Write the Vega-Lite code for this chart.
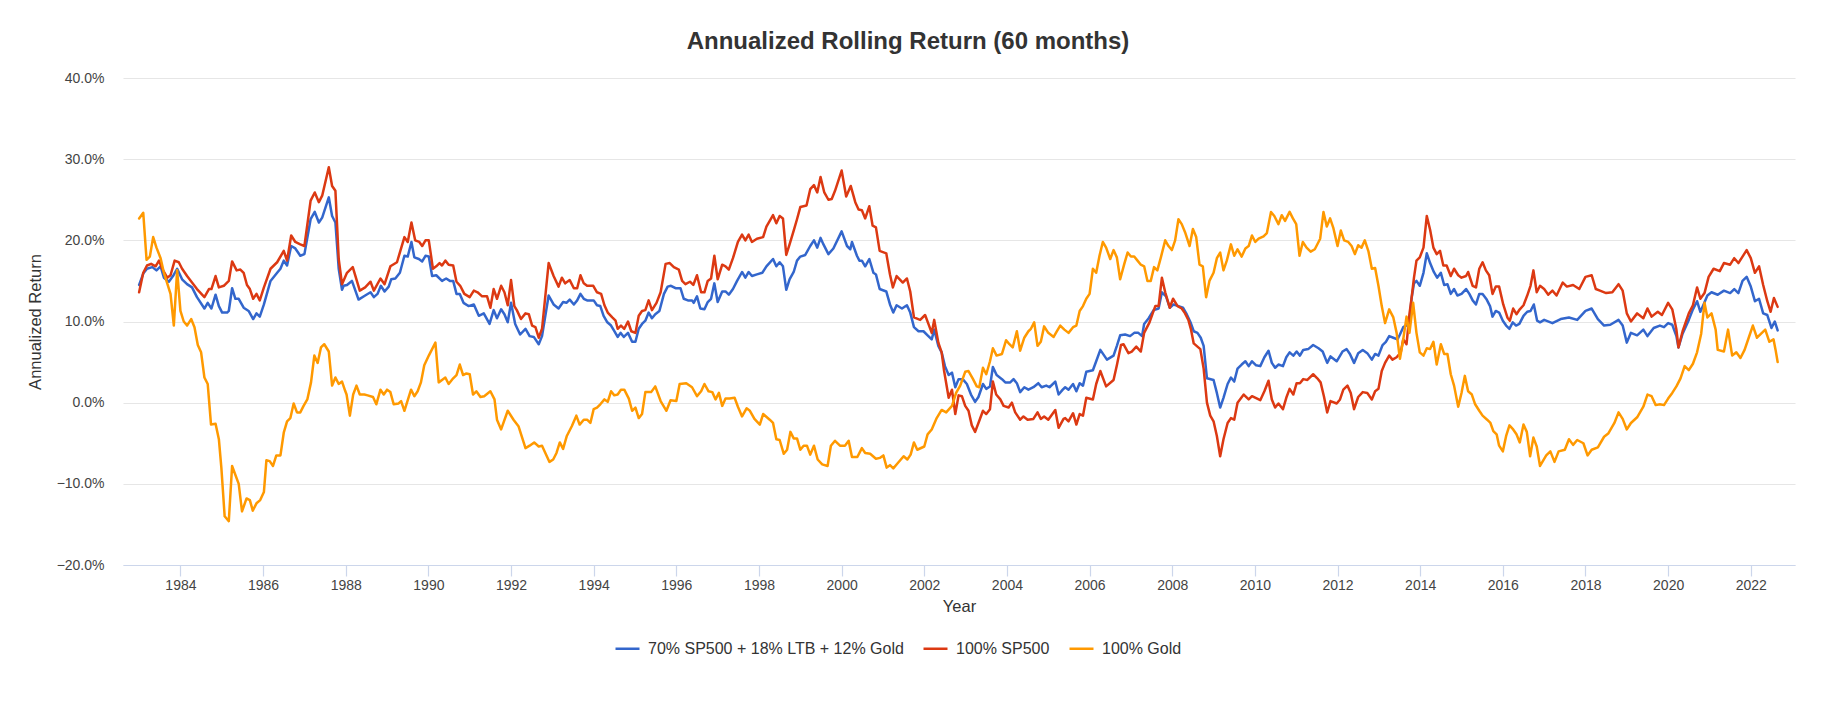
{
"$schema": "https://vega.github.io/schema/vega-lite/v6.json",
"width": 1672,
"height": 487,
"autosize": {"type": "none"},
"padding": {"left": 123, "top": 78, "right": 47, "bottom": 138},
"background": "white",
"config": {"view": {"stroke": null}, "font": "Liberation Sans"},
"title": {"text": "Annualized Rolling Return (60 months)", "fontSize": 24, "font": "Liberation Sans", "fontWeight": "bold", "color": "#333333", "anchor": "middle", "frame": "group", "dx": -51, "offset": 17},
"datasets": {
"blue": [
{"t":1983.00,"v":14.5},{"t":1983.10,"v":15.9},{"t":1983.19,"v":16.5},{"t":1983.32,"v":16.7},{"t":1983.42,"v":16.3},{"t":1983.52,"v":16.8},{"t":1983.60,"v":15.4},{"t":1983.72,"v":14.9},{"t":1983.82,"v":15.6},{"t":1983.92,"v":16.5},{"t":1984.04,"v":15.2},{"t":1984.16,"v":14.6},{"t":1984.28,"v":14.2},{"t":1984.40,"v":13.0},{"t":1984.58,"v":11.6},{"t":1984.66,"v":12.3},{"t":1984.75,"v":11.6},{"t":1984.85,"v":13.3},{"t":1984.93,"v":11.9},{"t":1985.01,"v":11.1},{"t":1985.13,"v":11.1},{"t":1985.17,"v":11.3},{"t":1985.25,"v":14.1},{"t":1985.33,"v":12.8},{"t":1985.41,"v":12.8},{"t":1985.53,"v":11.7},{"t":1985.65,"v":11.3},{"t":1985.76,"v":10.3},{"t":1985.84,"v":11.0},{"t":1985.92,"v":10.6},{"t":1986.02,"v":12.1},{"t":1986.18,"v":15.0},{"t":1986.34,"v":16.0},{"t":1986.42,"v":16.5},{"t":1986.50,"v":17.5},{"t":1986.58,"v":16.9},{"t":1986.68,"v":19.3},{"t":1986.78,"v":19.0},{"t":1986.90,"v":18.1},{"t":1987.00,"v":18.3},{"t":1987.15,"v":22.6},{"t":1987.25,"v":23.5},{"t":1987.35,"v":22.2},{"t":1987.43,"v":22.8},{"t":1987.59,"v":25.3},{"t":1987.67,"v":23.0},{"t":1987.75,"v":22.2},{"t":1987.83,"v":16.5},{"t":1987.91,"v":13.9},{"t":1987.95,"v":14.4},{"t":1988.03,"v":14.5},{"t":1988.15,"v":15.0},{"t":1988.31,"v":12.7},{"t":1988.47,"v":13.2},{"t":1988.60,"v":13.6},{"t":1988.68,"v":13.0},{"t":1988.77,"v":13.4},{"t":1988.85,"v":14.4},{"t":1988.94,"v":13.7},{"t":1989.04,"v":14.3},{"t":1989.10,"v":15.2},{"t":1989.20,"v":15.3},{"t":1989.31,"v":16.0},{"t":1989.42,"v":18.1},{"t":1989.50,"v":18.0},{"t":1989.59,"v":19.8},{"t":1989.66,"v":17.9},{"t":1989.77,"v":17.7},{"t":1989.85,"v":17.4},{"t":1989.93,"v":18.1},{"t":1990.01,"v":18.0},{"t":1990.09,"v":15.6},{"t":1990.19,"v":15.7},{"t":1990.33,"v":15.0},{"t":1990.43,"v":15.3},{"t":1990.52,"v":15.0},{"t":1990.60,"v":15.0},{"t":1990.68,"v":13.4},{"t":1990.76,"v":13.4},{"t":1990.85,"v":12.3},{"t":1990.97,"v":11.9},{"t":1991.10,"v":12.1},{"t":1991.22,"v":10.7},{"t":1991.34,"v":11.0},{"t":1991.48,"v":9.7},{"t":1991.58,"v":11.4},{"t":1991.66,"v":10.4},{"t":1991.76,"v":11.5},{"t":1991.84,"v":10.9},{"t":1991.92,"v":9.9},{"t":1992.00,"v":12.3},{"t":1992.10,"v":9.7},{"t":1992.22,"v":8.4},{"t":1992.35,"v":9.1},{"t":1992.45,"v":8.2},{"t":1992.55,"v":8.1},{"t":1992.67,"v":7.2},{"t":1992.75,"v":8.2},{"t":1992.91,"v":13.2},{"t":1993.03,"v":12.1},{"t":1993.15,"v":11.6},{"t":1993.26,"v":12.4},{"t":1993.34,"v":12.3},{"t":1993.42,"v":12.7},{"t":1993.52,"v":12.1},{"t":1993.60,"v":12.6},{"t":1993.68,"v":13.4},{"t":1993.76,"v":12.8},{"t":1993.84,"v":12.6},{"t":1994.00,"v":12.6},{"t":1994.08,"v":12.0},{"t":1994.16,"v":11.9},{"t":1994.24,"v":10.7},{"t":1994.33,"v":9.9},{"t":1994.42,"v":9.5},{"t":1994.50,"v":8.8},{"t":1994.58,"v":8.1},{"t":1994.65,"v":8.6},{"t":1994.73,"v":8.1},{"t":1994.83,"v":8.6},{"t":1994.93,"v":7.5},{"t":1995.01,"v":7.5},{"t":1995.09,"v":9.1},{"t":1995.17,"v":9.7},{"t":1995.25,"v":10.1},{"t":1995.33,"v":11.1},{"t":1995.41,"v":10.4},{"t":1995.49,"v":10.9},{"t":1995.59,"v":11.3},{"t":1995.70,"v":13.4},{"t":1995.79,"v":14.3},{"t":1995.87,"v":14.4},{"t":1995.98,"v":14.1},{"t":1996.10,"v":14.1},{"t":1996.18,"v":12.8},{"t":1996.28,"v":12.6},{"t":1996.38,"v":12.6},{"t":1996.42,"v":12.3},{"t":1996.50,"v":13.1},{"t":1996.58,"v":11.6},{"t":1996.68,"v":11.5},{"t":1996.76,"v":12.4},{"t":1996.84,"v":12.8},{"t":1996.92,"v":14.7},{"t":1997.00,"v":12.4},{"t":1997.11,"v":13.7},{"t":1997.19,"v":13.7},{"t":1997.27,"v":13.3},{"t":1997.37,"v":14.0},{"t":1997.47,"v":15.0},{"t":1997.59,"v":16.1},{"t":1997.67,"v":15.4},{"t":1997.75,"v":16.1},{"t":1997.83,"v":15.6},{"t":1997.95,"v":15.8},{"t":1998.08,"v":16.0},{"t":1998.18,"v":16.8},{"t":1998.34,"v":17.7},{"t":1998.42,"v":16.8},{"t":1998.50,"v":17.3},{"t":1998.58,"v":16.8},{"t":1998.66,"v":13.9},{"t":1998.74,"v":15.2},{"t":1998.84,"v":16.1},{"t":1998.92,"v":17.5},{"t":1999.00,"v":18.0},{"t":1999.12,"v":18.2},{"t":1999.24,"v":19.3},{"t":1999.33,"v":20.0},{"t":1999.41,"v":19.1},{"t":1999.49,"v":20.3},{"t":1999.56,"v":19.5},{"t":1999.68,"v":18.3},{"t":1999.80,"v":19.0},{"t":2000.00,"v":21.1},{"t":2000.13,"v":19.3},{"t":2000.21,"v":18.9},{"t":2000.25,"v":19.8},{"t":2000.37,"v":18.1},{"t":2000.43,"v":17.5},{"t":2000.49,"v":17.5},{"t":2000.57,"v":16.8},{"t":2000.67,"v":17.7},{"t":2000.77,"v":16.0},{"t":2000.83,"v":15.8},{"t":2000.92,"v":14.0},{"t":2001.08,"v":13.7},{"t":2001.17,"v":12.1},{"t":2001.25,"v":11.1},{"t":2001.33,"v":12.0},{"t":2001.46,"v":11.6},{"t":2001.58,"v":12.0},{"t":2001.66,"v":11.1},{"t":2001.75,"v":9.3},{"t":2001.86,"v":8.8},{"t":2001.98,"v":8.8},{"t":2002.08,"v":8.3},{"t":2002.18,"v":7.8},{"t":2002.24,"v":9.0},{"t":2002.34,"v":7.0},{"t":2002.42,"v":6.2},{"t":2002.50,"v":4.5},{"t":2002.59,"v":3.4},{"t":2002.67,"v":3.7},{"t":2002.75,"v":1.9},{"t":2002.83,"v":2.9},{"t":2002.93,"v":2.9},{"t":2003.03,"v":2.3},{"t":2003.13,"v":1.0},{"t":2003.23,"v":0.1},{"t":2003.31,"v":0.7},{"t":2003.42,"v":2.3},{"t":2003.50,"v":1.7},{"t":2003.59,"v":2.0},{"t":2003.66,"v":4.4},{"t":2003.75,"v":3.4},{"t":2003.88,"v":2.9},{"t":2003.96,"v":2.5},{"t":2004.08,"v":2.5},{"t":2004.16,"v":2.9},{"t":2004.24,"v":2.4},{"t":2004.32,"v":1.3},{"t":2004.42,"v":1.9},{"t":2004.52,"v":1.6},{"t":2004.64,"v":1.9},{"t":2004.76,"v":2.4},{"t":2004.84,"v":1.9},{"t":2004.95,"v":2.1},{"t":2005.03,"v":1.9},{"t":2005.17,"v":2.6},{"t":2005.25,"v":1.0},{"t":2005.35,"v":1.6},{"t":2005.41,"v":1.9},{"t":2005.49,"v":1.6},{"t":2005.60,"v":2.3},{"t":2005.68,"v":1.4},{"t":2005.76,"v":2.4},{"t":2005.84,"v":2.1},{"t":2005.92,"v":3.8},{"t":2006.08,"v":4.0},{"t":2006.16,"v":5.1},{"t":2006.26,"v":6.5},{"t":2006.42,"v":5.3},{"t":2006.58,"v":5.8},{"t":2006.66,"v":7.0},{"t":2006.74,"v":8.3},{"t":2006.86,"v":8.4},{"t":2006.98,"v":8.2},{"t":2007.08,"v":8.6},{"t":2007.18,"v":8.6},{"t":2007.27,"v":8.2},{"t":2007.32,"v":9.7},{"t":2007.43,"v":10.4},{"t":2007.55,"v":11.4},{"t":2007.67,"v":11.6},{"t":2007.75,"v":13.6},{"t":2007.85,"v":13.1},{"t":2007.94,"v":11.7},{"t":2008.03,"v":12.1},{"t":2008.15,"v":11.9},{"t":2008.26,"v":11.7},{"t":2008.34,"v":11.0},{"t":2008.45,"v":9.8},{"t":2008.52,"v":8.8},{"t":2008.61,"v":8.6},{"t":2008.69,"v":8.0},{"t":2008.76,"v":7.0},{"t":2008.84,"v":3.0},{"t":2009.00,"v":2.8},{"t":2009.08,"v":1.2},{"t":2009.16,"v":-0.6},{"t":2009.24,"v":0.6},{"t":2009.34,"v":2.3},{"t":2009.42,"v":3.1},{"t":2009.50,"v":2.6},{"t":2009.58,"v":4.2},{"t":2009.68,"v":4.7},{"t":2009.77,"v":5.1},{"t":2009.85,"v":4.5},{"t":2009.93,"v":5.1},{"t":2010.03,"v":4.6},{"t":2010.13,"v":4.5},{"t":2010.23,"v":5.6},{"t":2010.33,"v":6.4},{"t":2010.41,"v":4.9},{"t":2010.49,"v":4.3},{"t":2010.57,"v":4.7},{"t":2010.68,"v":4.5},{"t":2010.76,"v":5.6},{"t":2010.84,"v":6.2},{"t":2010.93,"v":5.8},{"t":2011.01,"v":6.3},{"t":2011.09,"v":5.8},{"t":2011.17,"v":6.5},{"t":2011.29,"v":6.6},{"t":2011.41,"v":7.1},{"t":2011.54,"v":6.7},{"t":2011.64,"v":6.3},{"t":2011.75,"v":4.9},{"t":2011.83,"v":5.7},{"t":2011.98,"v":5.1},{"t":2012.12,"v":6.3},{"t":2012.22,"v":6.6},{"t":2012.30,"v":6.0},{"t":2012.40,"v":4.9},{"t":2012.50,"v":6.1},{"t":2012.61,"v":6.5},{"t":2012.72,"v":6.1},{"t":2012.83,"v":5.3},{"t":2012.91,"v":6.0},{"t":2012.99,"v":5.8},{"t":2013.09,"v":7.1},{"t":2013.17,"v":7.5},{"t":2013.25,"v":8.2},{"t":2013.35,"v":8.0},{"t":2013.45,"v":7.8},{"t":2013.51,"v":8.4},{"t":2013.59,"v":9.3},{"t":2013.66,"v":9.5},{"t":2013.74,"v":9.9},{"t":2013.79,"v":12.8},{"t":2013.85,"v":14.7},{"t":2013.91,"v":15.0},{"t":2013.99,"v":14.4},{"t":2014.08,"v":16.0},{"t":2014.16,"v":18.4},{"t":2014.24,"v":17.2},{"t":2014.33,"v":16.1},{"t":2014.41,"v":15.4},{"t":2014.50,"v":16.0},{"t":2014.58,"v":14.5},{"t":2014.66,"v":14.6},{"t":2014.74,"v":13.4},{"t":2014.82,"v":14.0},{"t":2014.90,"v":13.2},{"t":2015.00,"v":13.4},{"t":2015.11,"v":14.0},{"t":2015.19,"v":13.4},{"t":2015.27,"v":12.6},{"t":2015.35,"v":12.1},{"t":2015.43,"v":13.4},{"t":2015.51,"v":13.4},{"t":2015.61,"v":12.7},{"t":2015.69,"v":11.9},{"t":2015.75,"v":10.6},{"t":2015.83,"v":11.3},{"t":2015.91,"v":11.1},{"t":2016.00,"v":10.1},{"t":2016.08,"v":9.5},{"t":2016.16,"v":9.1},{"t":2016.24,"v":9.9},{"t":2016.32,"v":9.5},{"t":2016.40,"v":9.7},{"t":2016.50,"v":10.7},{"t":2016.59,"v":11.2},{"t":2016.67,"v":11.3},{"t":2016.75,"v":12.1},{"t":2016.83,"v":10.1},{"t":2016.90,"v":9.9},{"t":2017.00,"v":10.2},{"t":2017.20,"v":9.8},{"t":2017.40,"v":10.3},{"t":2017.60,"v":10.5},{"t":2017.80,"v":10.2},{"t":2018.00,"v":11.3},{"t":2018.15,"v":11.6},{"t":2018.30,"v":10.3},{"t":2018.45,"v":9.5},{"t":2018.60,"v":9.6},{"t":2018.80,"v":10.2},{"t":2018.90,"v":9.5},{"t":2019.00,"v":7.4},{"t":2019.10,"v":8.6},{"t":2019.25,"v":8.3},{"t":2019.40,"v":9.0},{"t":2019.50,"v":8.2},{"t":2019.65,"v":9.2},{"t":2019.80,"v":9.5},{"t":2019.90,"v":9.3},{"t":2020.00,"v":9.8},{"t":2020.10,"v":9.6},{"t":2020.20,"v":8.2},{"t":2020.25,"v":6.8},{"t":2020.35,"v":8.5},{"t":2020.50,"v":10.2},{"t":2020.60,"v":11.5},{"t":2020.70,"v":12.5},{"t":2020.78,"v":11.2},{"t":2020.85,"v":12.0},{"t":2020.95,"v":13.2},{"t":2021.05,"v":13.6},{"t":2021.20,"v":13.3},{"t":2021.35,"v":13.8},{"t":2021.50,"v":13.5},{"t":2021.60,"v":14.0},{"t":2021.70,"v":13.5},{"t":2021.80,"v":15.0},{"t":2021.90,"v":15.5},{"t":2022.00,"v":14.3},{"t":2022.10,"v":12.5},{"t":2022.20,"v":12.8},{"t":2022.30,"v":11.0},{"t":2022.40,"v":10.8},{"t":2022.50,"v":9.2},{"t":2022.58,"v":10.0},{"t":2022.65,"v":8.9}
],
"red": [
{"t":1983.00,"v":13.6},{"t":1983.10,"v":16.0},{"t":1983.19,"v":16.9},{"t":1983.29,"v":17.1},{"t":1983.40,"v":16.8},{"t":1983.48,"v":17.5},{"t":1983.56,"v":16.5},{"t":1983.68,"v":15.4},{"t":1983.76,"v":15.7},{"t":1983.86,"v":17.5},{"t":1983.96,"v":17.3},{"t":1984.04,"v":16.5},{"t":1984.16,"v":15.6},{"t":1984.28,"v":14.8},{"t":1984.40,"v":14.0},{"t":1984.58,"v":13.0},{"t":1984.69,"v":14.0},{"t":1984.75,"v":14.0},{"t":1984.85,"v":15.6},{"t":1984.93,"v":14.2},{"t":1985.05,"v":14.4},{"t":1985.17,"v":15.0},{"t":1985.25,"v":17.4},{"t":1985.36,"v":16.3},{"t":1985.45,"v":16.4},{"t":1985.53,"v":16.0},{"t":1985.61,"v":14.5},{"t":1985.68,"v":14.0},{"t":1985.76,"v":12.8},{"t":1985.84,"v":13.4},{"t":1985.92,"v":12.6},{"t":1986.02,"v":14.2},{"t":1986.18,"v":16.5},{"t":1986.34,"v":17.3},{"t":1986.50,"v":18.7},{"t":1986.58,"v":17.5},{"t":1986.68,"v":20.6},{"t":1986.78,"v":19.8},{"t":1986.90,"v":19.5},{"t":1987.00,"v":19.3},{"t":1987.15,"v":24.9},{"t":1987.25,"v":25.9},{"t":1987.35,"v":24.7},{"t":1987.43,"v":25.5},{"t":1987.59,"v":29.0},{"t":1987.67,"v":26.7},{"t":1987.75,"v":26.1},{"t":1987.83,"v":17.7},{"t":1987.91,"v":14.6},{"t":1988.03,"v":16.0},{"t":1988.17,"v":16.7},{"t":1988.34,"v":13.8},{"t":1988.47,"v":14.2},{"t":1988.60,"v":14.9},{"t":1988.68,"v":13.8},{"t":1988.84,"v":15.3},{"t":1988.94,"v":14.6},{"t":1989.08,"v":16.8},{"t":1989.24,"v":17.3},{"t":1989.42,"v":20.4},{"t":1989.50,"v":19.8},{"t":1989.59,"v":22.2},{"t":1989.68,"v":20.0},{"t":1989.78,"v":19.8},{"t":1989.85,"v":19.3},{"t":1989.93,"v":20.0},{"t":1990.01,"v":20.0},{"t":1990.11,"v":16.5},{"t":1990.19,"v":16.8},{"t":1990.27,"v":17.2},{"t":1990.33,"v":16.9},{"t":1990.41,"v":17.5},{"t":1990.49,"v":17.0},{"t":1990.60,"v":16.9},{"t":1990.68,"v":14.9},{"t":1990.77,"v":14.4},{"t":1990.87,"v":13.4},{"t":1991.00,"v":13.0},{"t":1991.10,"v":13.8},{"t":1991.19,"v":13.6},{"t":1991.30,"v":13.1},{"t":1991.42,"v":13.1},{"t":1991.50,"v":11.7},{"t":1991.58,"v":14.0},{"t":1991.66,"v":12.8},{"t":1991.76,"v":14.4},{"t":1991.84,"v":13.6},{"t":1991.92,"v":12.0},{"t":1992.00,"v":15.1},{"t":1992.08,"v":11.9},{"t":1992.14,"v":11.4},{"t":1992.24,"v":10.3},{"t":1992.35,"v":11.0},{"t":1992.43,"v":10.9},{"t":1992.51,"v":9.5},{"t":1992.59,"v":9.3},{"t":1992.67,"v":8.0},{"t":1992.75,"v":9.1},{"t":1992.91,"v":17.2},{"t":1993.03,"v":15.6},{"t":1993.15,"v":14.3},{"t":1993.23,"v":15.4},{"t":1993.31,"v":14.7},{"t":1993.42,"v":15.1},{"t":1993.52,"v":14.1},{"t":1993.60,"v":14.1},{"t":1993.68,"v":15.7},{"t":1993.76,"v":14.7},{"t":1993.84,"v":14.4},{"t":1993.99,"v":14.4},{"t":1994.08,"v":13.6},{"t":1994.18,"v":13.4},{"t":1994.26,"v":12.0},{"t":1994.34,"v":11.1},{"t":1994.45,"v":10.5},{"t":1994.53,"v":10.1},{"t":1994.58,"v":9.1},{"t":1994.66,"v":9.5},{"t":1994.74,"v":9.1},{"t":1994.83,"v":10.0},{"t":1994.91,"v":8.8},{"t":1995.01,"v":8.6},{"t":1995.09,"v":10.7},{"t":1995.17,"v":11.3},{"t":1995.25,"v":11.4},{"t":1995.33,"v":12.6},{"t":1995.41,"v":11.4},{"t":1995.52,"v":12.3},{"t":1995.62,"v":13.6},{"t":1995.74,"v":17.1},{"t":1995.84,"v":17.2},{"t":1995.94,"v":16.7},{"t":1996.06,"v":16.4},{"t":1996.14,"v":15.0},{"t":1996.22,"v":14.6},{"t":1996.33,"v":14.9},{"t":1996.41,"v":14.5},{"t":1996.50,"v":15.7},{"t":1996.60,"v":13.6},{"t":1996.68,"v":13.6},{"t":1996.76,"v":15.0},{"t":1996.84,"v":15.3},{"t":1996.92,"v":18.1},{"t":1997.00,"v":15.2},{"t":1997.11,"v":17.0},{"t":1997.19,"v":16.8},{"t":1997.27,"v":16.4},{"t":1997.37,"v":17.8},{"t":1997.49,"v":19.8},{"t":1997.59,"v":20.7},{"t":1997.67,"v":20.0},{"t":1997.75,"v":20.7},{"t":1997.83,"v":19.8},{"t":1997.95,"v":20.2},{"t":1998.10,"v":20.4},{"t":1998.18,"v":21.7},{"t":1998.34,"v":23.1},{"t":1998.42,"v":22.1},{"t":1998.50,"v":23.0},{"t":1998.58,"v":22.7},{"t":1998.66,"v":18.2},{"t":1998.74,"v":19.5},{"t":1998.84,"v":21.2},{"t":1998.92,"v":22.6},{"t":1999.00,"v":24.1},{"t":1999.15,"v":24.3},{"t":1999.24,"v":26.3},{"t":1999.33,"v":26.8},{"t":1999.41,"v":25.9},{"t":1999.49,"v":27.8},{"t":1999.58,"v":25.9},{"t":1999.68,"v":25.0},{"t":1999.76,"v":25.1},{"t":1999.84,"v":26.1},{"t":2000.00,"v":28.6},{"t":2000.11,"v":25.4},{"t":2000.22,"v":26.7},{"t":2000.33,"v":24.7},{"t":2000.41,"v":23.8},{"t":2000.49,"v":23.7},{"t":2000.57,"v":22.7},{"t":2000.67,"v":24.2},{"t":2000.75,"v":21.8},{"t":2000.83,"v":21.6},{"t":2000.92,"v":18.7},{"t":2001.08,"v":18.4},{"t":2001.17,"v":15.8},{"t":2001.24,"v":14.2},{"t":2001.33,"v":15.6},{"t":2001.48,"v":14.8},{"t":2001.58,"v":15.3},{"t":2001.66,"v":13.7},{"t":2001.75,"v":10.5},{"t":2001.90,"v":10.2},{"t":2002.02,"v":10.8},{"t":2002.10,"v":9.7},{"t":2002.18,"v":8.6},{"t":2002.24,"v":10.2},{"t":2002.34,"v":7.4},{"t":2002.42,"v":6.2},{"t":2002.48,"v":3.9},{"t":2002.59,"v":0.6},{"t":2002.67,"v":1.6},{"t":2002.75,"v":-1.4},{"t":2002.83,"v":0.9},{"t":2002.91,"v":0.8},{"t":2002.99,"v":-0.4},{"t":2003.07,"v":-1.0},{"t":2003.15,"v":-2.8},{"t":2003.23,"v":-3.6},{"t":2003.34,"v":-2.1},{"t":2003.42,"v":-1.0},{"t":2003.50,"v":-1.4},{"t":2003.59,"v":-0.8},{"t":2003.66,"v":2.6},{"t":2003.74,"v":1.0},{"t":2003.84,"v":0.4},{"t":2003.92,"v":-0.4},{"t":2004.04,"v":-0.6},{"t":2004.12,"v":0.0},{"t":2004.20,"v":-1.2},{"t":2004.32,"v":-2.1},{"t":2004.40,"v":-1.7},{"t":2004.50,"v":-2.1},{"t":2004.64,"v":-2.0},{"t":2004.74,"v":-1.2},{"t":2004.82,"v":-2.0},{"t":2004.90,"v":-1.7},{"t":2005.00,"v":-2.1},{"t":2005.17,"v":-0.9},{"t":2005.25,"v":-3.1},{"t":2005.37,"v":-2.0},{"t":2005.41,"v":-1.9},{"t":2005.49,"v":-2.3},{"t":2005.60,"v":-1.3},{"t":2005.68,"v":-2.7},{"t":2005.76,"v":-1.4},{"t":2005.84,"v":-1.6},{"t":2005.92,"v":0.6},{"t":2006.08,"v":0.4},{"t":2006.16,"v":2.3},{"t":2006.26,"v":3.9},{"t":2006.40,"v":2.0},{"t":2006.58,"v":2.8},{"t":2006.66,"v":4.6},{"t":2006.76,"v":7.1},{"t":2006.82,"v":7.2},{"t":2006.94,"v":6.1},{"t":2007.02,"v":6.3},{"t":2007.13,"v":6.9},{"t":2007.24,"v":6.3},{"t":2007.32,"v":8.6},{"t":2007.45,"v":9.9},{"t":2007.59,"v":11.9},{"t":2007.67,"v":11.9},{"t":2007.75,"v":15.4},{"t":2007.83,"v":13.6},{"t":2007.94,"v":11.7},{"t":2008.02,"v":12.8},{"t":2008.13,"v":11.9},{"t":2008.23,"v":11.6},{"t":2008.31,"v":11.0},{"t":2008.39,"v":10.2},{"t":2008.45,"v":9.1},{"t":2008.52,"v":7.3},{"t":2008.61,"v":6.9},{"t":2008.68,"v":6.6},{"t":2008.76,"v":4.2},{"t":2008.84,"v":0.0},{"t":2008.92,"v":-1.6},{"t":2009.00,"v":-2.3},{"t":2009.08,"v":-4.1},{"t":2009.16,"v":-6.6},{"t":2009.24,"v":-4.5},{"t":2009.34,"v":-2.5},{"t":2009.42,"v":-1.9},{"t":2009.50,"v":-2.1},{"t":2009.58,"v":0.0},{"t":2009.73,"v":1.0},{"t":2009.85,"v":0.4},{"t":2009.93,"v":0.8},{"t":2010.13,"v":0.3},{"t":2010.23,"v":1.4},{"t":2010.33,"v":2.7},{"t":2010.41,"v":0.4},{"t":2010.49,"v":-0.6},{"t":2010.57,"v":-0.1},{"t":2010.68,"v":-0.8},{"t":2010.76,"v":0.6},{"t":2010.84,"v":1.7},{"t":2010.93,"v":1.0},{"t":2011.01,"v":2.4},{"t":2011.09,"v":2.4},{"t":2011.17,"v":2.9},{"t":2011.27,"v":2.8},{"t":2011.41,"v":3.5},{"t":2011.51,"v":3.0},{"t":2011.59,"v":2.5},{"t":2011.67,"v":0.8},{"t":2011.75,"v":-1.2},{"t":2011.83,"v":0.2},{"t":2011.98,"v":-0.1},{"t":2012.06,"v":0.4},{"t":2012.14,"v":1.6},{"t":2012.24,"v":2.1},{"t":2012.32,"v":1.2},{"t":2012.40,"v":-0.8},{"t":2012.50,"v":0.7},{"t":2012.61,"v":1.3},{"t":2012.72,"v":1.2},{"t":2012.83,"v":0.4},{"t":2012.91,"v":1.4},{"t":2012.99,"v":1.7},{"t":2013.07,"v":3.9},{"t":2013.15,"v":4.9},{"t":2013.25,"v":5.8},{"t":2013.33,"v":5.3},{"t":2013.43,"v":5.6},{"t":2013.53,"v":6.2},{"t":2013.59,"v":7.8},{"t":2013.67,"v":7.2},{"t":2013.74,"v":10.9},{"t":2013.79,"v":12.8},{"t":2013.85,"v":15.4},{"t":2013.91,"v":17.5},{"t":2013.99,"v":17.9},{"t":2014.08,"v":19.1},{"t":2014.16,"v":23.0},{"t":2014.24,"v":21.3},{"t":2014.32,"v":19.1},{"t":2014.40,"v":18.3},{"t":2014.48,"v":18.7},{"t":2014.56,"v":16.9},{"t":2014.64,"v":16.9},{"t":2014.74,"v":15.6},{"t":2014.82,"v":16.5},{"t":2014.92,"v":15.7},{"t":2015.00,"v":15.4},{"t":2015.11,"v":15.6},{"t":2015.16,"v":16.1},{"t":2015.27,"v":14.4},{"t":2015.35,"v":14.2},{"t":2015.43,"v":16.5},{"t":2015.51,"v":17.3},{"t":2015.59,"v":16.3},{"t":2015.67,"v":15.7},{"t":2015.75,"v":13.4},{"t":2015.83,"v":14.3},{"t":2015.91,"v":14.3},{"t":2016.01,"v":12.1},{"t":2016.11,"v":10.5},{"t":2016.17,"v":10.1},{"t":2016.25,"v":11.6},{"t":2016.33,"v":10.9},{"t":2016.41,"v":11.5},{"t":2016.50,"v":12.0},{"t":2016.59,"v":13.2},{"t":2016.67,"v":14.4},{"t":2016.74,"v":16.3},{"t":2016.82,"v":13.6},{"t":2016.90,"v":14.4},{"t":2017.00,"v":14.0},{"t":2017.10,"v":13.3},{"t":2017.20,"v":13.8},{"t":2017.30,"v":13.2},{"t":2017.45,"v":14.8},{"t":2017.55,"v":14.3},{"t":2017.70,"v":14.5},{"t":2017.85,"v":14.0},{"t":2018.00,"v":15.5},{"t":2018.15,"v":15.7},{"t":2018.25,"v":14.0},{"t":2018.35,"v":13.8},{"t":2018.50,"v":13.5},{"t":2018.65,"v":13.6},{"t":2018.80,"v":14.6},{"t":2018.90,"v":13.8},{"t":2019.00,"v":11.0},{"t":2019.10,"v":10.0},{"t":2019.25,"v":11.0},{"t":2019.40,"v":10.4},{"t":2019.50,"v":11.6},{"t":2019.60,"v":10.6},{"t":2019.75,"v":11.2},{"t":2019.85,"v":10.8},{"t":2020.00,"v":12.3},{"t":2020.10,"v":11.5},{"t":2020.20,"v":9.0},{"t":2020.25,"v":6.8},{"t":2020.35,"v":8.8},{"t":2020.50,"v":11.0},{"t":2020.60,"v":12.0},{"t":2020.70,"v":14.2},{"t":2020.78,"v":12.8},{"t":2020.88,"v":13.5},{"t":2020.98,"v":15.5},{"t":2021.10,"v":16.5},{"t":2021.25,"v":16.2},{"t":2021.35,"v":17.2},{"t":2021.50,"v":17.0},{"t":2021.60,"v":17.8},{"t":2021.70,"v":17.2},{"t":2021.80,"v":18.0},{"t":2021.90,"v":18.8},{"t":2022.00,"v":17.8},{"t":2022.10,"v":16.0},{"t":2022.20,"v":16.8},{"t":2022.30,"v":14.5},{"t":2022.40,"v":12.5},{"t":2022.48,"v":11.2},{"t":2022.56,"v":12.9},{"t":2022.65,"v":11.8}
],
"gold": [
{"t":1983.00,"v":22.7},{"t":1983.10,"v":23.4},{"t":1983.18,"v":17.6},{"t":1983.26,"v":18.0},{"t":1983.34,"v":20.4},{"t":1983.42,"v":19.1},{"t":1983.52,"v":17.8},{"t":1983.60,"v":16.0},{"t":1983.68,"v":14.7},{"t":1983.76,"v":13.4},{"t":1983.84,"v":9.5},{"t":1983.92,"v":16.3},{"t":1984.00,"v":11.3},{"t":1984.08,"v":10.0},{"t":1984.16,"v":9.5},{"t":1984.26,"v":10.3},{"t":1984.34,"v":9.3},{"t":1984.42,"v":7.1},{"t":1984.50,"v":6.2},{"t":1984.58,"v":3.1},{"t":1984.66,"v":2.3},{"t":1984.74,"v":-2.7},{"t":1984.85,"v":-2.6},{"t":1984.93,"v":-4.5},{"t":1984.99,"v":-8.0},{"t":1985.07,"v":-14.0},{"t":1985.17,"v":-14.6},{"t":1985.25,"v":-7.8},{"t":1985.41,"v":-10.0},{"t":1985.49,"v":-13.4},{"t":1985.60,"v":-11.8},{"t":1985.68,"v":-12.0},{"t":1985.75,"v":-13.3},{"t":1985.84,"v":-12.4},{"t":1985.93,"v":-12.0},{"t":1986.02,"v":-11.0},{"t":1986.08,"v":-7.1},{"t":1986.16,"v":-7.2},{"t":1986.24,"v":-7.8},{"t":1986.32,"v":-6.5},{"t":1986.42,"v":-6.5},{"t":1986.50,"v":-3.7},{"t":1986.58,"v":-2.3},{"t":1986.66,"v":-1.9},{"t":1986.74,"v":-0.1},{"t":1986.82,"v":-1.2},{"t":1986.90,"v":-1.2},{"t":1986.98,"v":-0.4},{"t":1987.07,"v":0.4},{"t":1987.16,"v":2.5},{"t":1987.24,"v":5.8},{"t":1987.32,"v":4.9},{"t":1987.40,"v":6.8},{"t":1987.48,"v":7.2},{"t":1987.59,"v":6.3},{"t":1987.67,"v":2.1},{"t":1987.75,"v":3.1},{"t":1987.83,"v":2.3},{"t":1987.91,"v":2.6},{"t":1987.99,"v":1.4},{"t":1988.02,"v":1.0},{"t":1988.10,"v":-1.6},{"t":1988.18,"v":1.0},{"t":1988.26,"v":2.1},{"t":1988.34,"v":1.0},{"t":1988.45,"v":1.0},{"t":1988.53,"v":0.9},{"t":1988.66,"v":0.7},{"t":1988.74,"v":-0.2},{"t":1988.84,"v":1.6},{"t":1988.92,"v":1.0},{"t":1989.00,"v":1.6},{"t":1989.08,"v":1.3},{"t":1989.16,"v":-0.2},{"t":1989.28,"v":-0.1},{"t":1989.34,"v":0.2},{"t":1989.42,"v":-1.0},{"t":1989.58,"v":1.6},{"t":1989.66,"v":0.8},{"t":1989.74,"v":1.4},{"t":1989.82,"v":2.5},{"t":1989.90,"v":4.6},{"t":1990.01,"v":5.8},{"t":1990.17,"v":7.4},{"t":1990.25,"v":2.5},{"t":1990.33,"v":2.8},{"t":1990.41,"v":3.1},{"t":1990.49,"v":2.3},{"t":1990.60,"v":3.0},{"t":1990.68,"v":3.4},{"t":1990.76,"v":4.7},{"t":1990.84,"v":3.4},{"t":1990.92,"v":3.6},{"t":1991.00,"v":3.5},{"t":1991.08,"v":1.0},{"t":1991.16,"v":1.4},{"t":1991.26,"v":0.7},{"t":1991.35,"v":0.8},{"t":1991.50,"v":1.4},{"t":1991.60,"v":0.4},{"t":1991.66,"v":-2.1},{"t":1991.76,"v":-3.3},{"t":1991.92,"v":-1.0},{"t":1992.06,"v":-2.1},{"t":1992.18,"v":-2.9},{"t":1992.35,"v":-5.6},{"t":1992.45,"v":-5.3},{"t":1992.56,"v":-4.9},{"t":1992.67,"v":-5.4},{"t":1992.75,"v":-5.3},{"t":1992.83,"v":-6.2},{"t":1992.93,"v":-7.3},{"t":1993.02,"v":-7.0},{"t":1993.10,"v":-6.2},{"t":1993.18,"v":-4.9},{"t":1993.26,"v":-5.7},{"t":1993.35,"v":-4.1},{"t":1993.47,"v":-2.9},{"t":1993.58,"v":-1.6},{"t":1993.66,"v":-2.7},{"t":1993.76,"v":-2.1},{"t":1993.84,"v":-2.1},{"t":1993.92,"v":-2.5},{"t":1994.00,"v":-0.8},{"t":1994.08,"v":-0.6},{"t":1994.16,"v":-0.2},{"t":1994.26,"v":0.4},{"t":1994.34,"v":0.1},{"t":1994.42,"v":1.4},{"t":1994.50,"v":0.9},{"t":1994.58,"v":1.0},{"t":1994.66,"v":1.6},{"t":1994.74,"v":1.6},{"t":1994.85,"v":0.5},{"t":1994.93,"v":-1.0},{"t":1995.01,"v":-0.6},{"t":1995.09,"v":-1.9},{"t":1995.17,"v":-1.4},{"t":1995.25,"v":1.3},{"t":1995.39,"v":1.3},{"t":1995.49,"v":2.0},{"t":1995.62,"v":0.2},{"t":1995.76,"v":-1.0},{"t":1995.86,"v":0.3},{"t":1996.00,"v":0.2},{"t":1996.08,"v":2.3},{"t":1996.24,"v":2.4},{"t":1996.38,"v":1.9},{"t":1996.50,"v":0.8},{"t":1996.60,"v":1.4},{"t":1996.68,"v":2.3},{"t":1996.78,"v":1.4},{"t":1996.87,"v":1.3},{"t":1996.95,"v":0.4},{"t":1997.03,"v":1.2},{"t":1997.11,"v":-0.4},{"t":1997.19,"v":0.5},{"t":1997.29,"v":0.5},{"t":1997.41,"v":0.6},{"t":1997.49,"v":-0.5},{"t":1997.59,"v":-1.7},{"t":1997.70,"v":-0.7},{"t":1997.78,"v":-1.0},{"t":1997.89,"v":-2.0},{"t":1998.02,"v":-2.7},{"t":1998.10,"v":-1.4},{"t":1998.26,"v":-2.1},{"t":1998.34,"v":-2.5},{"t":1998.42,"v":-4.5},{"t":1998.50,"v":-4.6},{"t":1998.60,"v":-6.3},{"t":1998.68,"v":-5.8},{"t":1998.76,"v":-3.6},{"t":1998.84,"v":-4.4},{"t":1998.92,"v":-4.4},{"t":1999.00,"v":-5.8},{"t":1999.08,"v":-5.3},{"t":1999.16,"v":-5.3},{"t":1999.24,"v":-6.4},{"t":1999.33,"v":-5.3},{"t":1999.42,"v":-7.0},{"t":1999.53,"v":-7.6},{"t":1999.66,"v":-7.8},{"t":1999.74,"v":-5.3},{"t":1999.84,"v":-4.7},{"t":1999.96,"v":-5.3},{"t":2000.08,"v":-5.3},{"t":2000.17,"v":-4.7},{"t":2000.25,"v":-6.7},{"t":2000.38,"v":-6.7},{"t":2000.49,"v":-5.6},{"t":2000.57,"v":-6.2},{"t":2000.69,"v":-6.3},{"t":2000.83,"v":-6.9},{"t":2000.93,"v":-6.8},{"t":2001.01,"v":-6.5},{"t":2001.09,"v":-8.0},{"t":2001.17,"v":-7.7},{"t":2001.25,"v":-8.1},{"t":2001.35,"v":-7.5},{"t":2001.50,"v":-6.6},{"t":2001.59,"v":-7.0},{"t":2001.67,"v":-6.4},{"t":2001.75,"v":-4.9},{"t":2001.83,"v":-5.8},{"t":2002.00,"v":-5.4},{"t":2002.08,"v":-3.9},{"t":2002.18,"v":-3.3},{"t":2002.30,"v":-1.9},{"t":2002.42,"v":-0.9},{"t":2002.53,"v":-1.2},{"t":2002.67,"v":-0.4},{"t":2002.77,"v":1.2},{"t":2002.87,"v":2.1},{"t":2002.99,"v":3.8},{"t":2003.07,"v":3.9},{"t":2003.17,"v":3.0},{"t":2003.27,"v":2.0},{"t":2003.33,"v":1.9},{"t":2003.42,"v":4.3},{"t":2003.50,"v":3.5},{"t":2003.59,"v":5.1},{"t":2003.66,"v":6.7},{"t":2003.75,"v":5.8},{"t":2003.88,"v":6.0},{"t":2003.98,"v":7.7},{"t":2004.06,"v":7.2},{"t":2004.14,"v":6.8},{"t":2004.24,"v":8.8},{"t":2004.32,"v":6.4},{"t":2004.42,"v":8.0},{"t":2004.52,"v":8.8},{"t":2004.58,"v":9.1},{"t":2004.66,"v":9.9},{"t":2004.74,"v":7.0},{"t":2004.82,"v":7.5},{"t":2004.90,"v":9.4},{"t":2005.00,"v":8.6},{"t":2005.13,"v":8.1},{"t":2005.21,"v":8.8},{"t":2005.29,"v":9.5},{"t":2005.39,"v":9.0},{"t":2005.49,"v":8.6},{"t":2005.60,"v":9.3},{"t":2005.68,"v":9.5},{"t":2005.76,"v":11.3},{"t":2005.84,"v":11.9},{"t":2005.92,"v":12.8},{"t":2006.00,"v":13.4},{"t":2006.08,"v":16.5},{"t":2006.16,"v":16.0},{"t":2006.24,"v":18.1},{"t":2006.32,"v":19.8},{"t":2006.40,"v":19.1},{"t":2006.50,"v":17.7},{"t":2006.58,"v":18.8},{"t":2006.66,"v":17.9},{"t":2006.74,"v":15.2},{"t":2006.84,"v":17.1},{"t":2006.92,"v":18.5},{"t":2007.00,"v":18.0},{"t":2007.08,"v":18.0},{"t":2007.16,"v":17.5},{"t":2007.24,"v":17.0},{"t":2007.32,"v":16.8},{"t":2007.40,"v":15.0},{"t":2007.48,"v":15.0},{"t":2007.56,"v":16.7},{"t":2007.64,"v":16.3},{"t":2007.73,"v":18.0},{"t":2007.83,"v":20.0},{"t":2007.91,"v":19.3},{"t":2007.99,"v":18.8},{"t":2008.07,"v":20.0},{"t":2008.15,"v":22.6},{"t":2008.23,"v":22.0},{"t":2008.31,"v":21.0},{"t":2008.42,"v":19.3},{"t":2008.50,"v":21.4},{"t":2008.58,"v":20.4},{"t":2008.66,"v":17.0},{"t":2008.74,"v":16.8},{"t":2008.82,"v":13.0},{"t":2008.90,"v":15.0},{"t":2009.00,"v":16.0},{"t":2009.08,"v":17.8},{"t":2009.16,"v":18.5},{"t":2009.24,"v":16.3},{"t":2009.32,"v":17.5},{"t":2009.42,"v":19.5},{"t":2009.50,"v":18.1},{"t":2009.58,"v":18.9},{"t":2009.68,"v":18.0},{"t":2009.77,"v":19.0},{"t":2009.85,"v":19.3},{"t":2009.93,"v":20.6},{"t":2010.01,"v":19.8},{"t":2010.09,"v":20.2},{"t":2010.21,"v":20.5},{"t":2010.29,"v":20.9},{"t":2010.39,"v":23.5},{"t":2010.47,"v":23.0},{"t":2010.57,"v":22.0},{"t":2010.65,"v":23.1},{"t":2010.73,"v":22.4},{"t":2010.84,"v":23.5},{"t":2010.92,"v":22.7},{"t":2011.00,"v":22.0},{"t":2011.08,"v":18.1},{"t":2011.16,"v":19.8},{"t":2011.25,"v":19.1},{"t":2011.35,"v":18.6},{"t":2011.45,"v":18.9},{"t":2011.58,"v":20.2},{"t":2011.66,"v":23.5},{"t":2011.74,"v":21.7},{"t":2011.82,"v":22.7},{"t":2011.90,"v":21.5},{"t":2012.00,"v":19.3},{"t":2012.08,"v":21.2},{"t":2012.16,"v":20.0},{"t":2012.26,"v":19.8},{"t":2012.34,"v":19.3},{"t":2012.42,"v":18.3},{"t":2012.50,"v":19.4},{"t":2012.58,"v":19.1},{"t":2012.66,"v":20.0},{"t":2012.75,"v":18.6},{"t":2012.83,"v":16.5},{"t":2012.91,"v":16.6},{"t":2012.99,"v":14.4},{"t":2013.07,"v":11.9},{"t":2013.15,"v":9.8},{"t":2013.25,"v":11.5},{"t":2013.35,"v":10.5},{"t":2013.43,"v":8.6},{"t":2013.51,"v":5.4},{"t":2013.59,"v":7.8},{"t":2013.67,"v":10.6},{"t":2013.74,"v":8.6},{"t":2013.83,"v":12.3},{"t":2013.91,"v":8.6},{"t":2013.99,"v":6.2},{"t":2014.08,"v":5.8},{"t":2014.16,"v":6.7},{"t":2014.24,"v":6.6},{"t":2014.32,"v":7.5},{"t":2014.40,"v":4.7},{"t":2014.50,"v":7.2},{"t":2014.58,"v":6.0},{"t":2014.66,"v":6.0},{"t":2014.74,"v":3.5},{"t":2014.82,"v":2.1},{"t":2014.92,"v":-0.5},{"t":2015.00,"v":1.2},{"t":2015.08,"v":3.3},{"t":2015.16,"v":1.4},{"t":2015.25,"v":1.0},{"t":2015.33,"v":-0.2},{"t":2015.43,"v":-1.0},{"t":2015.51,"v":-1.6},{"t":2015.62,"v":-2.1},{"t":2015.70,"v":-2.5},{"t":2015.77,"v":-3.5},{"t":2015.85,"v":-3.9},{"t":2015.91,"v":-5.3},{"t":2016.00,"v":-6.0},{"t":2016.08,"v":-4.1},{"t":2016.16,"v":-2.8},{"t":2016.25,"v":-3.3},{"t":2016.33,"v":-3.9},{"t":2016.41,"v":-4.9},{"t":2016.50,"v":-2.7},{"t":2016.58,"v":-3.6},{"t":2016.66,"v":-6.6},{"t":2016.74,"v":-4.3},{"t":2016.82,"v":-5.4},{"t":2016.90,"v":-7.8},{"t":2017.05,"v":-6.5},{"t":2017.15,"v":-6.0},{"t":2017.25,"v":-7.3},{"t":2017.35,"v":-6.0},{"t":2017.50,"v":-5.8},{"t":2017.60,"v":-4.5},{"t":2017.70,"v":-5.2},{"t":2017.80,"v":-4.6},{"t":2017.95,"v":-5.0},{"t":2018.05,"v":-6.5},{"t":2018.15,"v":-5.8},{"t":2018.30,"v":-5.5},{"t":2018.45,"v":-4.2},{"t":2018.55,"v":-3.8},{"t":2018.70,"v":-2.5},{"t":2018.80,"v":-1.2},{"t":2018.90,"v":-2.0},{"t":2019.00,"v":-3.3},{"t":2019.10,"v":-2.5},{"t":2019.25,"v":-1.8},{"t":2019.40,"v":-0.5},{"t":2019.50,"v":1.0},{"t":2019.60,"v":0.8},{"t":2019.70,"v":-0.3},{"t":2019.80,"v":-0.2},{"t":2019.90,"v":-0.3},{"t":2020.00,"v":0.5},{"t":2020.10,"v":1.2},{"t":2020.20,"v":2.0},{"t":2020.30,"v":3.0},{"t":2020.40,"v":4.5},{"t":2020.50,"v":4.0},{"t":2020.60,"v":4.8},{"t":2020.70,"v":6.2},{"t":2020.80,"v":8.5},{"t":2020.88,"v":12.3},{"t":2020.95,"v":10.5},{"t":2021.05,"v":11.0},{"t":2021.15,"v":9.0},{"t":2021.20,"v":6.5},{"t":2021.35,"v":6.3},{"t":2021.45,"v":9.0},{"t":2021.55,"v":5.8},{"t":2021.65,"v":6.2},{"t":2021.75,"v":5.5},{"t":2021.85,"v":6.5},{"t":2021.95,"v":8.0},{"t":2022.05,"v":9.5},{"t":2022.15,"v":8.0},{"t":2022.25,"v":8.5},{"t":2022.35,"v":9.0},{"t":2022.45,"v":7.5},{"t":2022.55,"v":7.8},{"t":2022.60,"v":6.5},{"t":2022.65,"v":5.0}
]
},
"encoding": {
"x": {"field": "t", "type": "quantitative", "scale": {"domain": [1982.61, 2023.07], "nice": false, "zero": false},
 "axis": {"title": "Year", "values": [1984,1986,1988,1990,1992,1994,1996,1998,2000,2002,2004,2006,2008,2010,2012,2014,2016,2018,2020,2022], "format": "d", "grid": false, "domainColor": "#ccd6eb", "domainWidth": 1.2, "tickColor": "#ccd6eb", "tickWidth": 1.2, "tickSize": 11, "labelPadding": 2, "labelFontSize": 14, "labelColor": "#444444", "labelFont": "Liberation Sans", "labelFlush": false, "titleFontSize": 16.5, "titleFont": "Liberation Sans", "titleFontWeight": "normal", "titleColor": "#333333", "titlePadding": 6, "zindex": 1}},
"y": {"field": "v", "type": "quantitative", "scale": {"domain": [-20, 40], "nice": false, "zero": false},
 "axis": {"title": "Annualized Return", "values": [-20,-10,0,10,20,30,40], "labelExpr": "format(datum.value, '.1f') + '%'", "grid": true, "gridColor": "#e6e6e6", "gridWidth": 1.2, "domain": false, "ticks": false, "labelPadding": 19, "labelFontSize": 14, "labelColor": "#444444", "labelFont": "Liberation Sans", "titleFontSize": 16.5, "titleFont": "Liberation Sans", "titleFontWeight": "normal", "titleColor": "#333333", "titleAngle": -90, "titleX": -88, "titleY": 243.5, "titleBaseline": "middle", "titleAlign": "center"}}
},
"layer": [
{"data": {"name": "blue"}, "mark": {"type": "line", "strokeWidth": 2.5, "strokeJoin": "round", "strokeCap": "round"},
 "encoding": {"color": {"datum": "70% SP500 + 18% LTB + 12% Gold", "type": "nominal",
  "scale": {"domain": ["70% SP500 + 18% LTB + 12% Gold", "100% SP500", "100% Gold"], "range": ["#3366cc", "#dc3912", "#ff9900"]},
  "legend": {"orient": "none", "legendX": 491, "legendY": 557, "direction": "horizontal", "title": null, "symbolType": "stroke", "symbolSize": 576, "symbolStrokeWidth": 2.5, "labelFontSize": 16, "labelFont": "Liberation Sans", "labelColor": "#333333", "labelOffset": 7, "columnPadding": 14, "labelLimit": 400}}}},
{"data": {"name": "red"}, "mark": {"type": "line", "strokeWidth": 2.5, "strokeJoin": "round", "strokeCap": "round"},
 "encoding": {"color": {"datum": "100% SP500", "type": "nominal"}}},
{"data": {"name": "gold"}, "mark": {"type": "line", "strokeWidth": 2.5, "strokeJoin": "round", "strokeCap": "round"},
 "encoding": {"color": {"datum": "100% Gold", "type": "nominal"}}}
]
}
